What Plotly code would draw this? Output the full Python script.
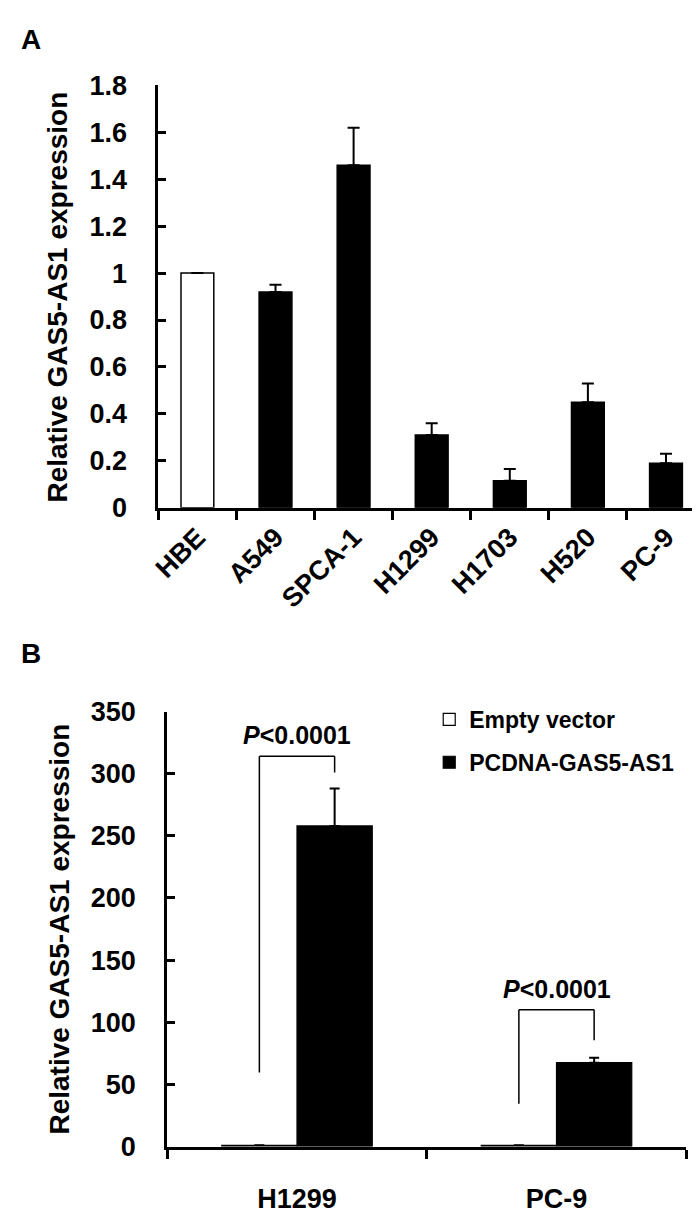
import plotly.graph_objects as go

# ---------------- Panel A data ----------------
cells_a = ["HBE", "A549", "SPCA-1", "H1299", "H1703", "H520", "PC-9"]
expr_a = [1.0, 0.92, 1.46, 0.31, 0.115, 0.45, 0.19]
err_a = [0.0, 0.03, 0.16, 0.05, 0.05, 0.08, 0.04]
colors_a = ["white", "black", "black", "black", "black", "black", "black"]
yticks_a = [0, 0.2, 0.4, 0.6, 0.8, 1.0, 1.2, 1.4, 1.6, 1.8]
yticklabels_a = ["0", "0.2", "0.4", "0.6", "0.8", "1", "1.2", "1.4", "1.6", "1.8"]

# ---------------- Panel B data ----------------
cells_b = ["H1299", "PC-9"]
series_b = ["Empty vector", "PCDNA-GAS5-AS1"]
empty_b = [1.0, 1.0]
empty_err_b = [0.3, 0.3]
pcdna_b = [258, 67.5]
pcdna_err_b = [30, 4]
yticks_b = [0, 50, 100, 150, 200, 250, 300, 350]
bracket_top_b = [314, 110]
bracket_left_end_b = [59.5, 34.5]
bracket_right_end_b = [301, 85.5]
p_label_b = ["<i>P</i>&lt;0.0001", "<i>P</i>&lt;0.0001"]

W, H = 700, 1215
FONT = "Liberation Sans, Arial, Helvetica, sans-serif"

def px_x(p):
    return p / W

def px_y(p):
    return 1 - p / H

fig = go.Figure()

# Panel A bars
fig.add_trace(go.Bar(
    x=cells_a, y=expr_a, width=0.42,
    marker=dict(color=colors_a, line=dict(color="black", width=1.5)),
    error_y=dict(type="data", symmetric=False, array=err_a,
                 arrayminus=[0] * len(err_a), color="black",
                 thickness=2, width=6),
    xaxis="x", yaxis="y", showlegend=False,
))

# Panel B bars
bw = 0.29
fig.add_trace(go.Bar(
    x=cells_b, y=empty_b, width=bw, offset=-bw, name=series_b[0],
    marker=dict(color="white", line=dict(color="black", width=1.2)),
    error_y=dict(type="data", symmetric=False, array=empty_err_b,
                 arrayminus=[0, 0], color="black", thickness=1.5, width=5),
    xaxis="x2", yaxis="y2", legendgroup="a",
))
fig.add_trace(go.Bar(
    x=cells_b, y=pcdna_b, width=bw, offset=0, name=series_b[1],
    marker=dict(color="black", line=dict(color="black", width=1.2)),
    error_y=dict(type="data", symmetric=False, array=pcdna_err_b,
                 arrayminus=[0, 0], color="black", thickness=2, width=5),
    xaxis="x2", yaxis="y2", legendgroup="b",
))

# brackets and p-values
shapes = []
annotations = []
for i in range(len(cells_b)):
    xl = i - bw / 2
    xr = i + bw / 2
    line = dict(color="black", width=1.5)
    shapes.append(dict(type="line", xref="x2", yref="y2", x0=xl, x1=xl,
                       y0=bracket_left_end_b[i], y1=bracket_top_b[i], line=line))
    shapes.append(dict(type="line", xref="x2", yref="y2", x0=xl, x1=xr,
                       y0=bracket_top_b[i], y1=bracket_top_b[i], line=line))
    shapes.append(dict(type="line", xref="x2", yref="y2", x0=xr, x1=xr,
                       y0=bracket_right_end_b[i], y1=bracket_top_b[i], line=line))
    annotations.append(dict(xref="x2", yref="y2", x=i, y=bracket_top_b[i],
                            text=p_label_b[i], showarrow=False,
                            yanchor="middle", yshift=21,
                            font=dict(family=FONT, size=25, color="black",
                                      weight="bold")))

# y titles
annotations.append(dict(xref="paper", yref="paper", x=px_x(42), y=px_y(281),
                        text="Relative GAS5-AS1 expression", textangle=-90,
                        showarrow=False, xanchor="center", yanchor="middle",
                        font=dict(family=FONT, size=28, color="black", weight="bold")))
annotations.append(dict(xref="paper", yref="paper", x=px_x(44), y=px_y(929),
                        text="Relative GAS5-AS1 expression", textangle=-90,
                        showarrow=False, xanchor="center", yanchor="middle",
                        font=dict(family=FONT, size=28, color="black", weight="bold")))
# Panel letters
annotations.append(dict(xref="paper", yref="paper", x=px_x(3), y=px_y(17),
                        text="A", showarrow=False, xanchor="left", yanchor="middle",
                        font=dict(family=FONT, size=28, color="black", weight="bold")))
annotations.append(dict(xref="paper", yref="paper", x=px_x(3), y=px_y(646),
                        text="B", showarrow=False, xanchor="left", yanchor="middle",
                        font=dict(family=FONT, size=28, color="black", weight="bold")))

tickfont = dict(family=FONT, size=27, color="black", weight="bold")

fig.update_layout(
    width=W, height=H,
    margin=dict(l=0, r=0, t=0, b=0),
    paper_bgcolor="white", plot_bgcolor="white",
    barmode="overlay",
    shapes=shapes, annotations=annotations,
    xaxis=dict(domain=[px_x(144), px_x(697)], anchor="y",
               range=[-0.5, 6.5], showline=True, linecolor="black", linewidth=3,
               ticks="outside", tickson="boundaries", ticklen=9, tickwidth=3,
               tickcolor="black", tickangle=-45, tickfont=tickfont,
               showgrid=False, zeroline=False),
    yaxis=dict(domain=[px_y(497), px_y(64)], anchor="x",
               range=[0, 1.8], tickvals=yticks_a, ticktext=yticklabels_a,
               showline=True, linecolor="black", linewidth=3,
               ticks="inside", ticklen=8, tickwidth=3, tickcolor="black",
               ticklabelstandoff=23, tickfont=tickfont,
               showgrid=False, zeroline=False),
    xaxis2=dict(domain=[px_x(153), px_x(678)], anchor="y2",
                range=[-0.5, 1.5], showline=True, linecolor="black", linewidth=3,
                ticks="outside", tickson="boundaries", ticklen=9, tickwidth=3,
                tickcolor="black", ticklabelstandoff=26,
                tickfont=dict(family=FONT, size=27, color="black", weight="bold"),
                showgrid=False, zeroline=False),
    yaxis2=dict(domain=[px_y(1152), px_y(706)], anchor="x2",
                range=[0, 350], tickvals=yticks_b,
                showline=True, linecolor="black", linewidth=3,
                ticks="inside", ticklen=8, tickwidth=3, tickcolor="black",
                ticklabelstandoff=23,
                tickfont=dict(family=FONT, size=27, color="black", weight="bold"),
                showgrid=False, zeroline=False),
    legend=dict(x=px_x(418), y=px_y(692), xanchor="left", yanchor="top",
                bgcolor="rgba(0,0,0,0)", tracegroupgap=10,
                font=dict(family=FONT, size=23, color="black", weight="bold")),
)

fig.write_html("out.html")
